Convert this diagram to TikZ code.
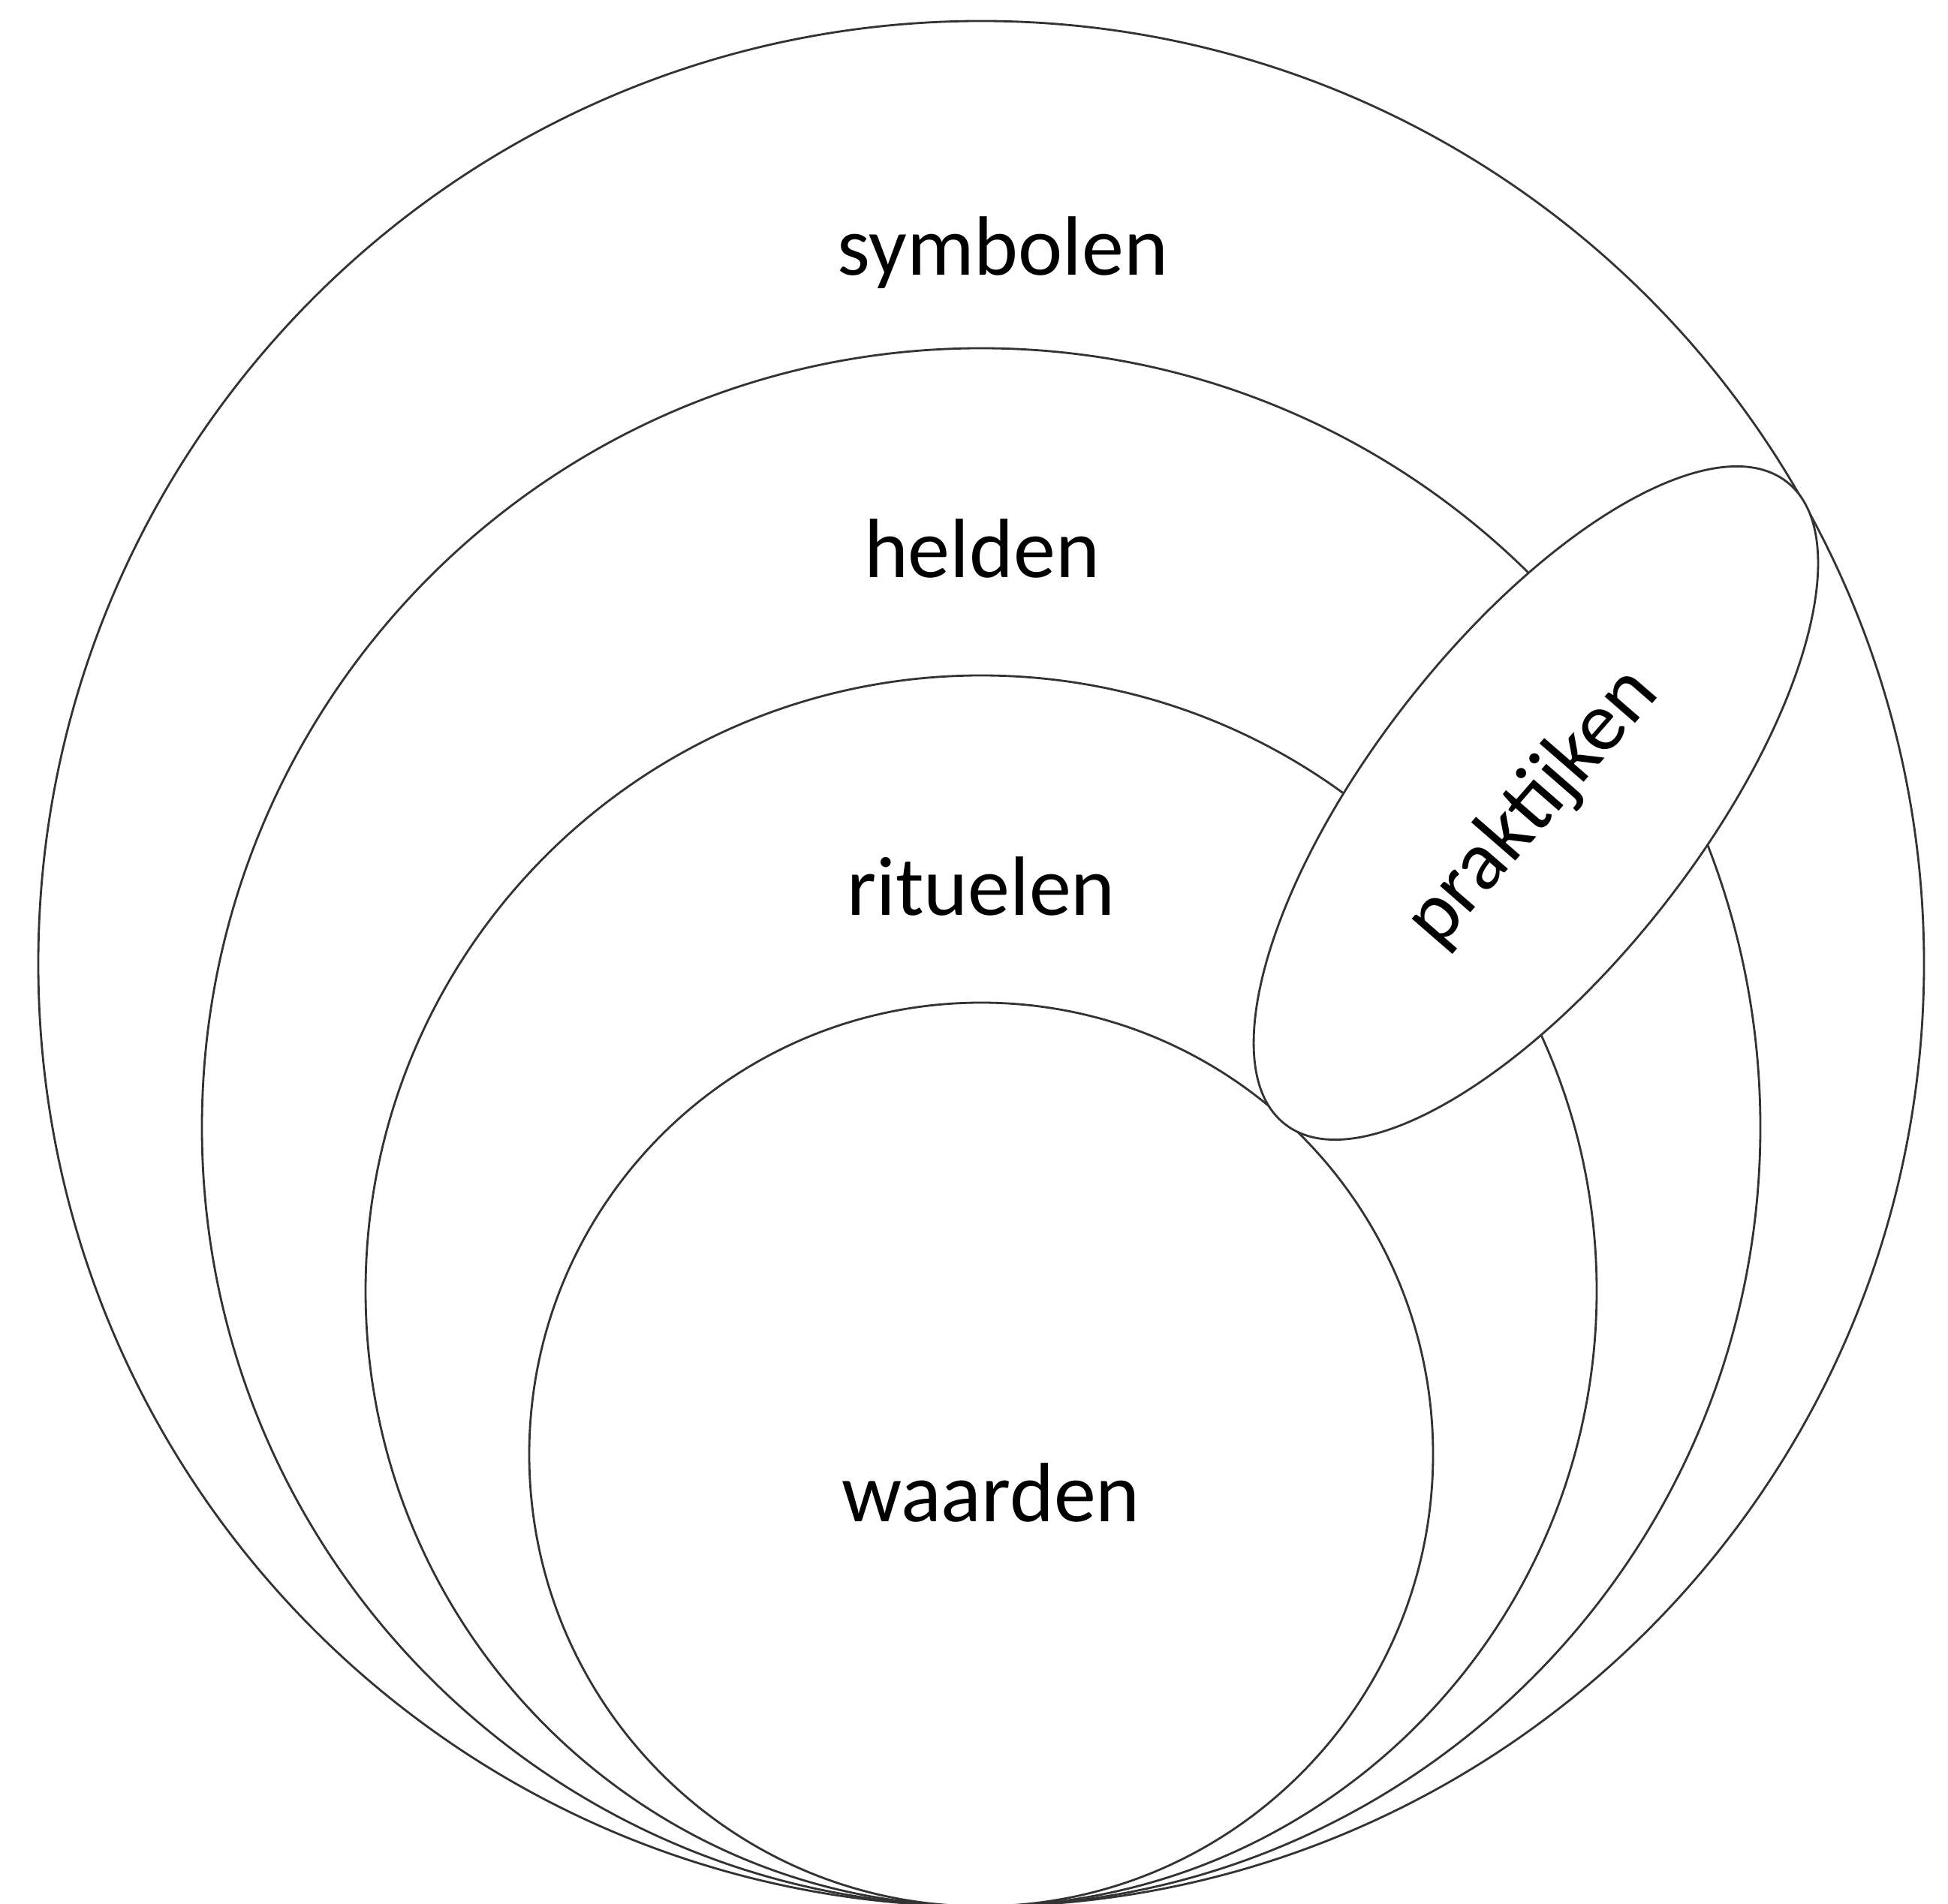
\documentclass[tikz,border=0pt]{standalone}
\usepackage{fontspec}
\setmainfont{Carlito}
\tikzset{
  layer/.style={draw=black!80, line width=0.8pt},
  lbl/.style={font=\fontsize{31.9}{38}\selectfont, inner sep=0pt},
}
\begin{document}
\begin{tikzpicture}
  \useasboundingbox (0,0) rectangle (25.95,25.36);
  % nested layers, all touching at the bottom
  \draw[layer] (13.07,12.52) circle (12.56);
  \draw[layer] (13.07,10.34) circle (10.38);
  \draw[layer] (13.07,8.16) circle (8.20);
  \draw[layer] (13.07,5.98) circle (6.02);
  % band across the outer layers
  \draw[layer,fill=white,rotate around={52:(20.46,14.66)}]
    (20.46,14.66) ellipse [x radius=5.43,y radius=2.18];
  \node[lbl,anchor=base] (symbolen) at (13.36,21.69) {symbolen};
  \node[lbl,anchor=base] (helden) at (13.08,17.66) {helden};
  \node[lbl,anchor=base] (rituelen) at (13.07,13.16) {rituelen};
  \node[lbl,anchor=base] (waarden) at (13.20,5.09) {waarden};
  \node[lbl,rotate=49] (praktijken) at (20.42,14.60) {praktijken};
\end{tikzpicture}
\end{document}
